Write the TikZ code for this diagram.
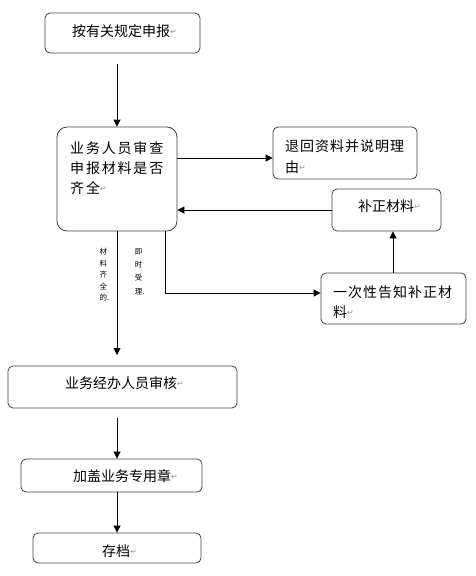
\documentclass[tikz,border=0pt]{standalone}
\usepackage{fontspec}
\setmainfont{Noto Sans CJK SC}
\newfontfamily\dvfont{DejaVu Sans}
\usetikzlibrary{arrows.meta,calc}
\newcommand{\parmark}{{\dvfont\fontsize{8}{8}\selectfont\raisebox{2pt}{\textcolor{black!40}{↵}}}}
\begin{document}
\begin{tikzpicture}[x=1pt,y=-1pt,
  box/.style={draw=black!75,line width=0.8pt,rounded corners=5pt,inner sep=0pt,minimum width=#1},
  txt/.style={inner sep=0pt,anchor=base west,font=\fontsize{14}{20}\selectfont},
  lbl/.style={inner sep=0pt,anchor=north,align=center},
  arr/.style={draw=black,line width=0.8pt,-{Triangle[length=7pt,width=7pt]}}]
\useasboundingbox (0,0) rectangle (475,576);
% boxes
\node[box=155pt,minimum height=40pt] (b1) at (122.5,33) {};
\node[box=120pt,minimum height=104pt,rounded corners=10pt] (b2) at (117,179) {};
\node[box=144pt,minimum height=52pt] (b3) at (345,153) {};
\node[box=109pt,minimum height=42pt] (b4) at (386.5,210) {};
\node[box=145pt,minimum height=51pt] (b5) at (393.5,298.5) {};
\node[box=229pt,minimum height=42pt] (b6) at (122.5,387) {};
\node[box=181pt,minimum height=33pt] (b7) at (111.5,475.5) {};
\node[box=168pt,minimum height=30pt] (b8) at (117,548) {};
% texts
\node[txt] (t1) at (72,36.3) {按有关规定申报\parmark};
\node[txt,font=\fontsize{14}{20}\selectfont\addfontfeatures{LetterSpace=13}] (t2a) at (70,153.3) {业务人员审查};
\node[txt,font=\fontsize{14}{20}\selectfont\addfontfeatures{LetterSpace=13}] (t2b) at (70,173.3) {申报材料是否};
\node[txt,font=\fontsize{14}{20}\selectfont\addfontfeatures{LetterSpace=13}] (t2c) at (70,193.3) {齐全\parmark};
\node[txt,font=\fontsize{14}{20}\selectfont\addfontfeatures{LetterSpace=7}] (t3a) at (285,151.3) {退回资料并说明理};
\node[txt] (t3b) at (285,172.3) {由\parmark};
\node[txt] (t4) at (358,211.3) {补正材料\parmark};
\node[txt,font=\fontsize{14}{20}\selectfont\addfontfeatures{LetterSpace=7}] (t5a) at (333,297.3) {一次性告知补正材};
\node[txt] (t5b) at (333,317.3) {料\parmark};
\node[txt] (t6) at (65,388.3) {业务经办人员审核\parmark};
\node[txt] (t7) at (73,481.3) {加盖业务专用章\parmark};
\node[txt] (t8) at (102,556.3) {存档\parmark};
% vertical labels
\node[lbl,font=\fontsize{7.5}{11.5}\selectfont] (l1) at (103.3,248) {材\\料\\齐\\全\\的\rlap{.}};
\node[lbl,font=\fontsize{7.5}{13.3}\selectfont] (l2) at (138.5,248) {即\\时\\受\\理\rlap{.}};
% coordinates
\coordinate (s1) at (117,64);
\coordinate (e6) at (117,355);
\coordinate (s7) at (117,418);
\coordinate (k5) at (165,293);
% connectors
\draw[arr] (s1) -- (b2.north);
\draw[arr] (b2.east |- 0,158) -- (b3.west |- 0,158);
\draw[arr] (b4.west) -- (b2.east |- b4.west);
\draw[arr] (b5.north -| 393,0) -- (b4.south -| 393,0);
\draw[arr] (b2.south -| k5) -- (k5) -- (b5.west |- k5);
\draw[arr] (b2.south) -- (e6);
\draw[arr] (s7) -- (s7 |- b7.north);
\draw[arr] (b7.south -| b8.north) -- (b8.north);
\end{tikzpicture}
\end{document}
